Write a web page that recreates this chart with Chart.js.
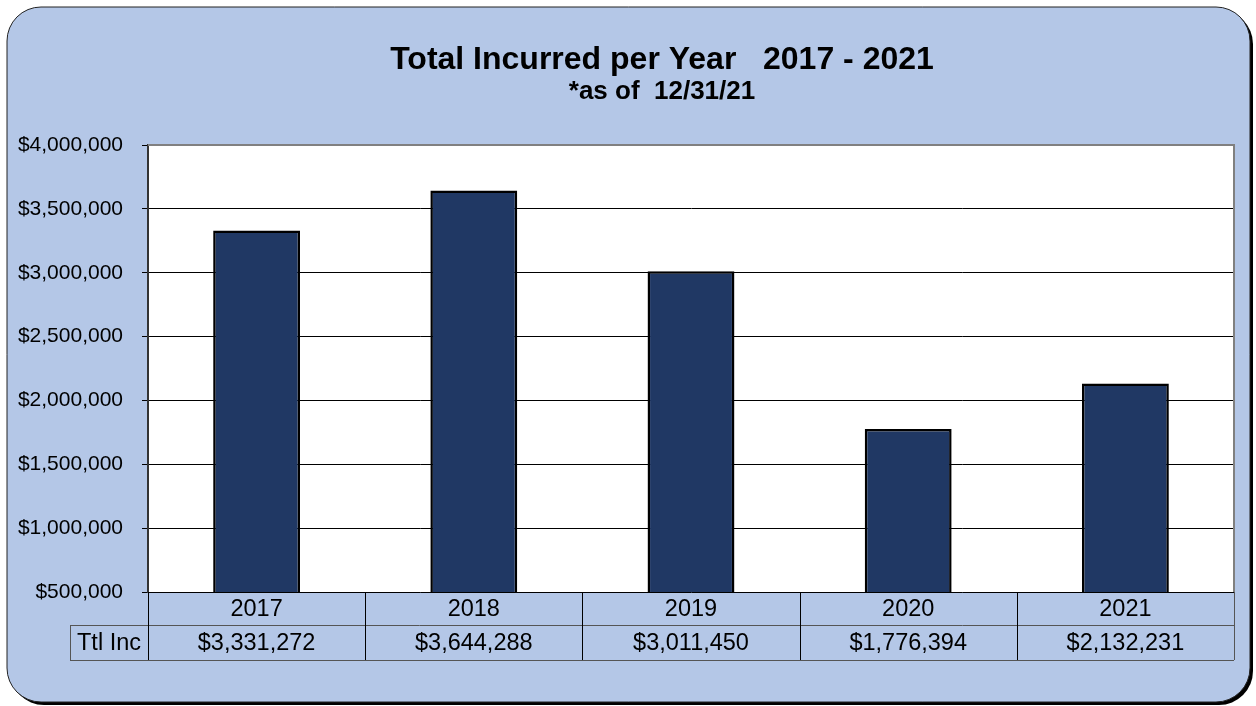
<!DOCTYPE html>
<html>
<head>
<meta charset="utf-8">
<script src="https://cdn.jsdelivr.net/npm/chart.js@4"></script>
<style>
  html, body { margin: 0; padding: 0; background: #fff; }
  #wrap { width: 1256px; height: 706px; }
</style>
</head>
<body>
<div id="wrap"><canvas id="myChart" width="1256" height="706"></canvas></div>
<script>
// data
const years = ["2017", "2018", "2019", "2020", "2021"];
const totalIncurred = [3331272, 3644288, 3011450, 1776394, 2132231];
const tableLabel = "Ttl Inc";
const yMin = 500000;
const yMax = 4000000;
const yStep = 500000;
const titleText = "Total Incurred per Year   2017 - 2021";
const subtitleText = "*as of  12/31/21";

const money = (v) => "$" + v.toLocaleString("en-US");

const FONT = "'Liberation Sans', Arial, sans-serif";
const PANEL = "#b4c7e7";

// rounded panel, shadow and white plot area
const backdrop = {
  id: "backdrop",
  beforeDraw(chart) {
    const c = chart.ctx;
    const a = chart.chartArea;
    c.save();
    // shadow
    c.beginPath();
    c.roundRect(10, 10, 1243, 695, 34);
    c.fillStyle = "#000";
    c.fill();
    c.beginPath();
    c.roundRect(7, 7, 1243, 695, 34);
    c.fillStyle = PANEL;
    c.fill();
    c.lineWidth = 1;
    c.strokeStyle = "#222";
    c.stroke();
    // plot area
    c.fillStyle = "#fff";
    c.fillRect(a.left, a.top, a.right - a.left, a.bottom - a.top);
    c.restore();
  },
  afterDatasetsDraw(chart) {
    const c = chart.ctx;
    const a = chart.chartArea;
    c.save();
    c.strokeStyle = "#808080";
    c.lineWidth = 2;
    c.beginPath();
    c.moveTo(a.left, a.top);
    c.lineTo(a.right, a.top);
    c.lineTo(a.right, a.bottom);
    c.stroke();
    c.restore();
  },
};

// headings
const headings = {
  id: "headings",
  afterDraw(chart) {
    const c = chart.ctx;
    c.save();
    c.fillStyle = "#000";
    c.textAlign = "center";
    c.textBaseline = "middle";
    c.font = "bold 32px " + FONT;
    c.fillText(titleText, 662, 60);
    c.font = "bold 26px " + FONT;
    c.fillText(subtitleText, 662, 92);
    c.restore();
  },
};

// data table under the plot
const dataTable = {
  id: "dataTable",
  afterDraw(chart) {
    const c = chart.ctx;
    const a = chart.chartArea;
    const x = chart.scales.x;
    const r1 = a.bottom;
    const r2 = r1 + 33;
    const r3 = r2 + 35;
    const labelLeft = 70;
    const half = (x.getPixelForValue(1) - x.getPixelForValue(0)) / 2;
    c.save();
    c.lineWidth = 1;
    c.strokeStyle = "#555";
    c.beginPath();
    c.moveTo(a.left, r2 + 0.5);
    c.lineTo(a.right, r2 + 0.5);
    c.moveTo(labelLeft, r2 + 0.5);
    c.lineTo(a.left, r2 + 0.5);
    c.moveTo(labelLeft, r3 + 0.5);
    c.lineTo(a.right, r3 + 0.5);
    c.moveTo(labelLeft + 0.5, r2);
    c.lineTo(labelLeft + 0.5, r3);
    c.moveTo(a.right + 0.5, r1);
    c.lineTo(a.right + 0.5, r3);
    c.stroke();
    c.strokeStyle = "#000";
    c.beginPath();
    years.forEach((y, i) => {
      const px = Math.round(x.getPixelForValue(i) - half) + 0.5;
      c.moveTo(px, r1);
      c.lineTo(px, r3);
    });
    c.stroke();

    c.fillStyle = "#000";
    c.textAlign = "center";
    c.textBaseline = "middle";
    c.font = "23.5px " + FONT;
    years.forEach((y, i) => {
      const px = x.getPixelForValue(i);
      c.fillText(y, px, (r1 + r2) / 2 + 1);
      c.fillText(money(totalIncurred[i]), px, (r2 + r3) / 2 + 1);
    });
    c.fillText(tableLabel, (labelLeft + a.left) / 2, (r2 + r3) / 2 + 1);
    c.restore();
  },
};

const ctx = document.getElementById("myChart");

new Chart(ctx, {
  type: "bar",
  data: {
    labels: years,
    datasets: [
      {
        label: tableLabel,
        data: totalIncurred,
        backgroundColor: "#203864",
        borderColor: "#000",
        borderWidth: 2.5,
        barPercentage: 0.4,
        categoryPercentage: 1,
      },
    ],
  },
  options: {
    responsive: false,
    animation: false,
    devicePixelRatio: 1,
    layout: {
      padding: { top: 145, right: 22, bottom: 114, left: 0 },
    },
    plugins: {
      legend: { display: false },
      tooltip: { enabled: false },
    },
    scales: {
      x: { display: false },
      y: {
        min: yMin,
        max: yMax,
        afterFit(scale) {
          scale.width = 148;
        },
        ticks: {
          stepSize: yStep,
          padding: 19,
          color: "#000",
          font: { family: FONT, size: 21 },
          callback: (v) => money(v),
        },
        grid: {
          color: "#000",
          lineWidth: 1,
          tickLength: 6,
          tickColor: "#000",
        },
        border: { color: "#333", width: 2 },
      },
    },
  },
  plugins: [backdrop, headings, dataTable],
});
</script>
</body>
</html>
